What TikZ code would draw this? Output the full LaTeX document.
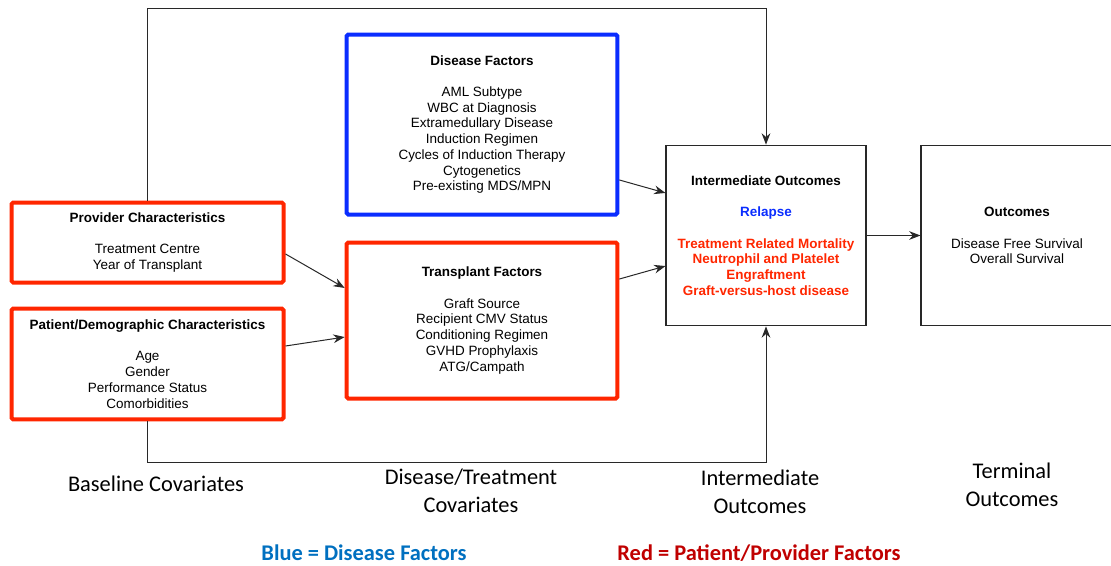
\documentclass[tikz,border=0pt]{standalone}
\usepackage{fontspec}
\setmainfont{Liberation Sans}
\newfontfamily\calfont{Carlito}
\usetikzlibrary{arrows.meta,calc}
\definecolor{bred}{RGB}{255,38,0}
\definecolor{bblue}{RGB}{10,45,255}
\definecolor{legblue}{RGB}{0,112,192}
\definecolor{legred}{RGB}{192,0,0}
\definecolor{lin}{RGB}{40,40,40}
\tikzset{
  boxtext/.style={align=center, font=\fontsize{10.1}{11.8}\selectfont, inner sep=0pt},
  redbox/.style={boxtext, draw=bred, line width=3pt, rounded corners=1.2pt},
  bluebox/.style={boxtext, draw=bblue, line width=3pt, rounded corners=1.2pt},
  plainbox/.style={boxtext, draw=lin, line width=0.8pt},
  arr/.style={draw=lin, line width=0.75pt, -{Stealth[length=8.5pt,width=6.5pt]}},
  lab/.style={align=center, font=\calfont\fontsize{16.8}{21}\selectfont},
  leg/.style={font=\calfont\bfseries\fontsize{16.8}{18}\selectfont}
}
\begin{document}
\begin{tikzpicture}[x=0.75pt,y=-0.75pt]
\useasboundingbox (0,0) rectangle (1111,565);
\node[redbox, minimum width=204pt, minimum height=60pt] (prov) at (147.5,242.5)
  {\textbf{Provider Characteristics}\\[11.8pt]Treatment Centre\\Year of Transplant};
\node[redbox, minimum width=204pt, minimum height=83pt] (pat) at (147.5,364)
  {\textbf{Patient/Demographic Characteristics}\\[11.8pt]Age\\Gender\\Performance Status\\Comorbidities};
\node[bluebox, minimum width=203pt, minimum height=135pt] (dis) at (482,124.5)
  {\textbf{Disease Factors}\\[11.8pt]AML Subtype\\WBC at Diagnosis\\Extramedullary Disease\\Induction Regimen\\Cycles of Induction Therapy\\Cytogenetics\\Pre-existing MDS/MPN};
\node[redbox, minimum width=203pt, minimum height=117pt] (trans) at (482,320.5)
  {\textbf{Transplant Factors}\\[11.8pt]Graft Source\\Recipient CMV Status\\Conditioning Regimen\\GVHD Prophylaxis\\ATG/Campath};
\node[plainbox, minimum width=150pt, minimum height=135.5pt] (inter) at (766,235.5)
  {\textbf{Intermediate Outcomes}\\[11.8pt]\textcolor{bblue}{\textbf{Relapse}}\\[11.8pt]
   \textcolor{bred}{\textbf{Treatment Related Mortality}}\\\textcolor{bred}{\textbf{Neutrophil and Platelet}}\\\textcolor{bred}{\textbf{Engraftment}}\\\textcolor{bred}{\textbf{Graft-versus-host disease}}};
\node[plainbox, minimum width=144pt, minimum height=135.5pt] (out) at (1017,235.5)
  {\textbf{Outcomes}\\[11.8pt]Disease Free Survival\\Overall Survival};
\coordinate (top) at (400,8);
\coordinate (bot) at (400,462);
\draw[arr] (prov.north) -- (prov.north |- top) -| (inter.north);
\draw[arr] (pat.south) -- (pat.south |- bot) -| (inter.south);
\draw[arr] ([yshift=-8.6pt]prov.east) -- ([yshift=24.4pt]trans.west);
\draw[arr] ([yshift=13.5pt]pat.east) -- ([yshift=-12.4pt]trans.west);
\draw[arr] ([yshift=-41.6pt]dis.east) -- ([yshift=31.9pt]inter.west);
\draw[arr] ([yshift=31.1pt]trans.east) -- ([yshift=-22.9pt]inter.west);
\draw[arr] (inter.east) -- (out.west);
\node[lab] (l1) at (156,484) {Baseline Covariates};
\node[lab] (l2) at (471,491) {Disease/Treatment\\Covariates};
\node[lab] (l3) at (760,491.5) {Intermediate\\Outcomes};
\node[lab] (l4) at (1012,484.5) {Terminal\\Outcomes};
\node[leg, text=legblue] (g1) at (364,553) {Blue = Disease Factors};
\node[leg, text=legred] (g2) at (759,553) {Red = Patient/Provider Factors};
\end{tikzpicture}
\end{document}
